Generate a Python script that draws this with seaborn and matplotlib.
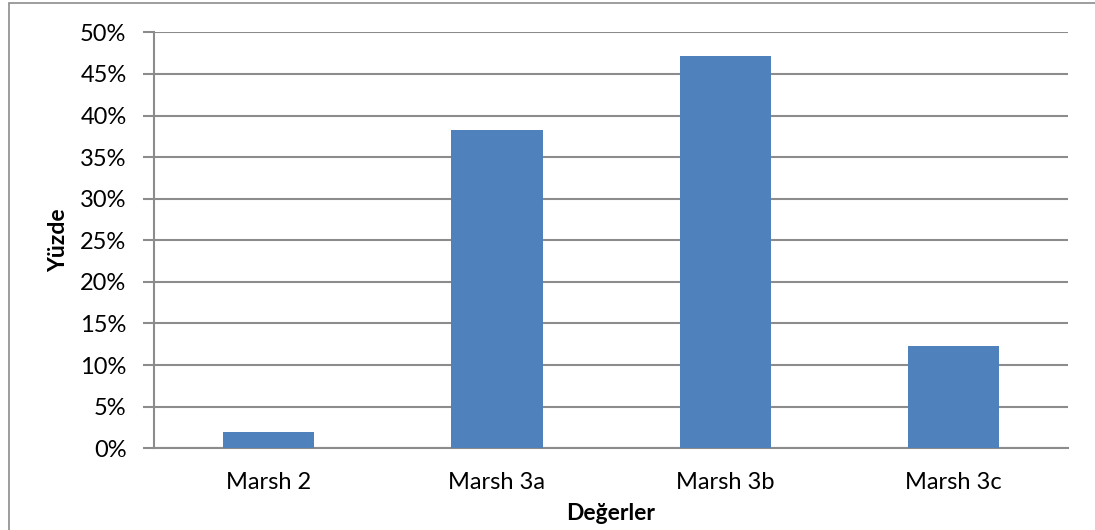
import matplotlib
matplotlib.use("Agg")
import matplotlib.pyplot as plt
import matplotlib.patches as mpatches
from matplotlib.ticker import FuncFormatter
import pandas as pd
import seaborn as sns

categories = ["Marsh 2", "Marsh 3a", "Marsh 3b", "Marsh 3c"]
percentages = [1.9, 38.3, 47.2, 12.3]
y_ticks = [0, 5, 10, 15, 20, 25, 30, 35, 40, 45, 50]

df = pd.DataFrame({"Değerler": categories, "Yüzde": [p / 100 for p in percentages]})

sns.set_theme(style="white")
plt.rcParams["font.family"] = ["Lato", "DejaVu Sans"]

fig = plt.figure(figsize=(10.95, 5.30), dpi=100)
ax = fig.add_axes([0.1409, 0.1542, 0.8344, 0.7848])

sns.barplot(data=df, x="Değerler", y="Yüzde", color="#4F81BD", saturation=1,
            width=0.4, ax=ax, zorder=3, linewidth=0)

grid_color = "#8C8C8C"
ax.set_ylim(0, 0.5)
ax.set_xlim(-0.5, len(categories) - 0.5)
ax.set_yticks([t / 100 for t in y_ticks])
ax.yaxis.set_major_formatter(FuncFormatter(lambda v, _: f"{v * 100:.0f}%"))
ax.grid(axis="y", color=grid_color, linewidth=1.5, zorder=0)
ax.set_axisbelow(True)

for side in ["top", "right"]:
    ax.spines[side].set_visible(False)
for side in ["left", "bottom"]:
    ax.spines[side].set_color(grid_color)
    ax.spines[side].set_linewidth(1.5)

tick_size = 17
ax.tick_params(axis="y", which="major", length=8, width=1.5, color=grid_color,
               labelsize=tick_size, labelcolor="black", pad=12, left=True)
ax.tick_params(axis="x", length=0, labelsize=tick_size, labelcolor="black", pad=17)

ax.set_xlabel("Değerler", fontsize=16.5, fontweight="bold", color="black", labelpad=7)
ax.set_ylabel("Yüzde", fontsize=16.5, fontweight="bold", color="black", labelpad=8)

# chart-area frame
fig.patches.append(mpatches.Rectangle((9 / 1095, -0.05), 1.2, 1 - 3 / 530 + 0.05,
                                      transform=fig.transFigure, fill=False,
                                      edgecolor="#8C8C8C", linewidth=1.2))

fig.savefig("out.png", dpi=100)
